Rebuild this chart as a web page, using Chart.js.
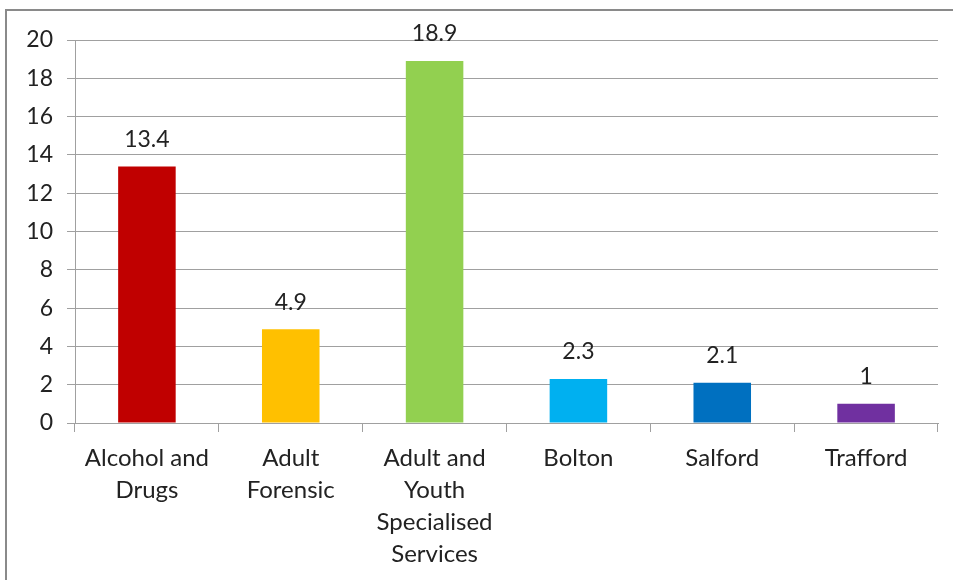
<!DOCTYPE html>
<html>
<head>
<meta charset="utf-8">
<script src="https://cdn.jsdelivr.net/npm/chart.js@4"></script>
<style>
  html, body { margin: 0; padding: 0; background: #fff; }
  #wrap { position: relative; width: 953px; height: 580px; }
  #frame { position: absolute; left: 5px; top: 9px; right: -10px; bottom: -10px; border: 2px solid #8a8a8a; }
  canvas { position: absolute; left: 0; top: 0; }
</style>
</head>
<body>
<div id="wrap">
  <div id="frame"></div>
  <canvas id="chart" width="953" height="580"></canvas>
</div>
<script>
const categories = [
  ['Alcohol and', 'Drugs'],
  ['Adult', 'Forensic'],
  ['Adult and', 'Youth', 'Specialised', 'Services'],
  ['Bolton'],
  ['Salford'],
  ['Trafford']
];
const values = [13.4, 4.9, 18.9, 2.3, 2.1, 1];
const barColors = ['#C00000', '#FFC000', '#92D050', '#00B0F0', '#0070C0', '#7030A0'];

const FONT = 'Lato, "Open Sans", sans-serif';

const valueLabels = {
  id: 'valueLabels',
  afterDatasetsDraw(chart) {
    const ctx = chart.ctx;
    const meta = chart.getDatasetMeta(0);
    ctx.save();
    ctx.font = '23px ' + FONT;
    ctx.fillStyle = '#222';
    ctx.textAlign = 'center';
    ctx.textBaseline = 'middle';
    meta.data.forEach((bar, i) => {
      ctx.fillText(String(values[i]), bar.x, bar.y - 27);
    });
    ctx.restore();
  }
};

new Chart(document.getElementById('chart').getContext('2d'), {
  type: 'bar',
  data: {
    labels: categories,
    datasets: [{
      data: values,
      backgroundColor: barColors,
      barPercentage: 0.8,
      categoryPercentage: 0.5
    }]
  },
  options: {
    responsive: false,
    animation: false,
    layout: { padding: { left: 0, right: 15, top: 40, bottom: 0 } },
    plugins: {
      legend: { display: false },
      tooltip: { enabled: false }
    },
    scales: {
      x: {
        afterFit(scale) { scale.height = 157; },
        grid: { drawOnChartArea: false, color: '#a0a0a0', tickLength: 9, offset: true },
        border: { color: '#a0a0a0', width: 1 },
        ticks: { color: '#222', font: { family: FONT, size: 24, lineHeight: 1.34 }, padding: 10, maxRotation: 0, autoSkip: false }
      },
      y: {
        min: 0,
        max: 20,
        afterFit(scale) { scale.width = 75; },
        ticks: { stepSize: 2, color: '#222', font: { family: FONT, size: 23 }, padding: 14 },
        grid: { color: '#a0a0a0', tickLength: 8 },
        border: { color: '#a0a0a0', width: 1 }
      }
    }
  },
  plugins: [valueLabels]
});
</script>
</body>
</html>
